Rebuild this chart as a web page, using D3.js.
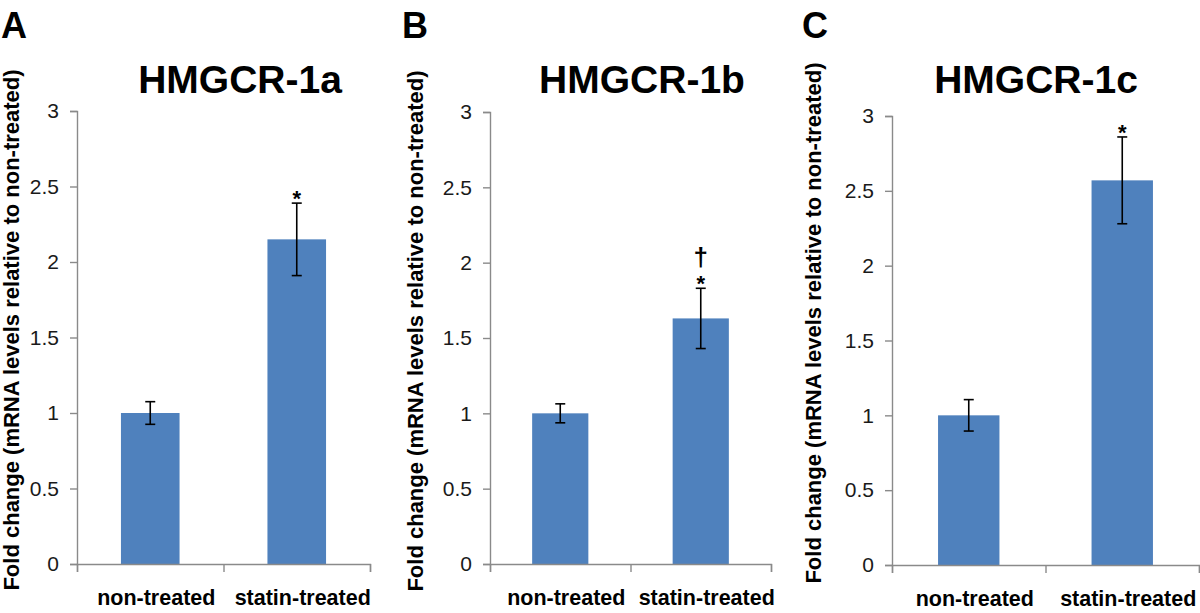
<!DOCTYPE html>
<html>
<head>
<meta charset="utf-8">
<script src="https://cdn.jsdelivr.net/npm/d3@7"></script>
<style>
  body { margin: 0; background: #fff; }
  svg { display: block; font-family: "Liberation Sans", Arial, Helvetica, sans-serif; }
</style>
</head>
<body>
<svg id="chart" width="1200" height="613"></svg>
<script>
// data
const categories = ["non-treated", "statin-treated"];
const panelLetters = ["A", "B", "C"];
const panelTitles = ["HMGCR-1a", "HMGCR-1b", "HMGCR-1c"];
const yTicks = [0, 0.5, 1, 1.5, 2, 2.5, 3];
const yAxisTitle = "Fold change (mRNA levels relative to non-treated)";

const meansA = [1, 2.15];
const errorsA = [0.075, 0.24];
const marksA = [[], ["*"]];

const meansB = [1, 1.63];
const errorsB = [0.063, 0.2];
const marksB = [[], ["*", "\u2020"]];

const meansC = [1, 2.57];
const errorsC = [0.105, 0.29];
const marksC = [[], ["*"]];

// layout of the three panels (pixels)
const layout = [
  {x0: 77, x1: 370, yZero: 564, yTop: 111, titleX: 240, letterX: 1, axisTitleX: 19, axisTitleY: 330},
  {x0: 490, x1: 771, yZero: 564, yTop: 112, titleX: 642, letterX: 402, axisTitleX: 423, axisTitleY: 331},
  {x0: 892, x1: 1199, yZero: 565, yTop: 116, titleX: 1036, letterX: 802, axisTitleX: 821, axisTitleY: 323}
];

const panels = [
  {means: meansA, errors: errorsA, marks: marksA},
  {means: meansB, errors: errorsB, marks: marksB},
  {means: meansC, errors: errorsC, marks: marksC}
];

const barColor = "#4f81bd";
const axisColor = "#8a8a8a";

const svg = d3.select("#chart");

panels.forEach((p, i) => {
  const L = layout[i];
  const g = svg.append("g").attr("class", "panel");

  const y = d3.scaleLinear().domain([0, 3]).range([L.yZero, L.yTop]);
  const x = d3.scaleBand()
    .domain(categories)
    .range([L.x0, L.x1])
    .paddingInner(0.6)
    .paddingOuter(0.3);
  const xTickScale = d3.scaleLinear().domain([0, categories.length]).range([L.x0, L.x1]);

  // panel letter
  g.append("text")
    .attr("x", L.letterX)
    .attr("y", 38)
    .attr("font-size", 36)
    .attr("font-weight", "bold")
    .text(panelLetters[i]);

  // title
  g.append("text")
    .attr("x", L.titleX)
    .attr("y", 93)
    .attr("text-anchor", "middle")
    .attr("font-size", 39)
    .attr("font-weight", "bold")
    .text(panelTitles[i]);

  // y axis title
  g.append("text")
    .attr("transform", `translate(${L.axisTitleX},${L.axisTitleY}) rotate(-90)`)
    .attr("text-anchor", "middle")
    .attr("font-size", 22)
    .attr("font-weight", "bold")
    .text(yAxisTitle);

  // bars
  g.selectAll(".bar")
    .data(p.means)
    .enter()
    .append("rect")
    .attr("class", "bar")
    .attr("x", (d, j) => x(categories[j]))
    .attr("width", x.bandwidth())
    .attr("y", d => y(d))
    .attr("height", d => y(0) - y(d))
    .attr("fill", barColor);

  // y axis
  const yAxis = g.append("g")
    .attr("transform", `translate(${L.x0},0)`)
    .call(d3.axisLeft(y)
      .tickValues(yTicks)
      .tickSize(7)
      .tickPadding(11)
      .tickFormat(d3.format("~g")));
  yAxis.selectAll("path, line").attr("stroke", axisColor).attr("stroke-width", 1.4);
  yAxis.selectAll("text")
    .attr("font-size", 21)
    .attr("fill", "#1a1a1a")
    .attr("font-family", "Liberation Sans, Arial, sans-serif");

  // x axis
  const xAxis = g.append("g")
    .attr("transform", `translate(0,${L.yZero})`)
    .call(d3.axisBottom(xTickScale)
      .tickValues(d3.range(categories.length + 1))
      .tickSize(8)
      .tickFormat(""));
  xAxis.selectAll("path, line").attr("stroke", axisColor).attr("stroke-width", 1.4);

  // category labels
  g.selectAll(".cat")
    .data(categories)
    .enter()
    .append("text")
    .attr("class", "cat")
    .attr("x", d => x(d) + x.bandwidth() / 2 + 6)
    .attr("y", L.yZero + 41)
    .attr("text-anchor", "middle")
    .attr("font-size", 21.5)
    .attr("font-weight", "bold")
    .text(d => d);

  // error bars
  const cap = 5;
  const eb = g.selectAll(".err")
    .data(p.means.map((m, j) => ({m: m, e: p.errors[j], c: categories[j], marks: p.marks[j]})))
    .enter()
    .append("g")
    .attr("class", "err")
    .attr("stroke", "#000")
    .attr("stroke-width", 1.6);
  eb.append("line")
    .attr("x1", d => x(d.c) + x.bandwidth() / 2)
    .attr("x2", d => x(d.c) + x.bandwidth() / 2)
    .attr("y1", d => y(d.m + d.e))
    .attr("y2", d => y(d.m - d.e));
  eb.append("line")
    .attr("x1", d => x(d.c) + x.bandwidth() / 2 - cap)
    .attr("x2", d => x(d.c) + x.bandwidth() / 2 + cap)
    .attr("y1", d => y(d.m + d.e))
    .attr("y2", d => y(d.m + d.e));
  eb.append("line")
    .attr("x1", d => x(d.c) + x.bandwidth() / 2 - cap)
    .attr("x2", d => x(d.c) + x.bandwidth() / 2 + cap)
    .attr("y1", d => y(d.m - d.e))
    .attr("y2", d => y(d.m - d.e));

  // significance marks, stacked upward from the error bar top
  eb.each(function(d) {
    const cx = x(d.c) + x.bandwidth() / 2;
    d.marks.forEach((mk, k) => {
      g.append("text")
        .attr("x", cx)
        .attr("y", y(d.m + d.e) + (k === 0 ? 3 : -22))
        .attr("text-anchor", "middle")
        .attr("font-size", k === 0 ? 22 : 26)
        .attr("font-weight", "bold")
        .text(mk);
    });
  });
});
</script>
</body>
</html>
